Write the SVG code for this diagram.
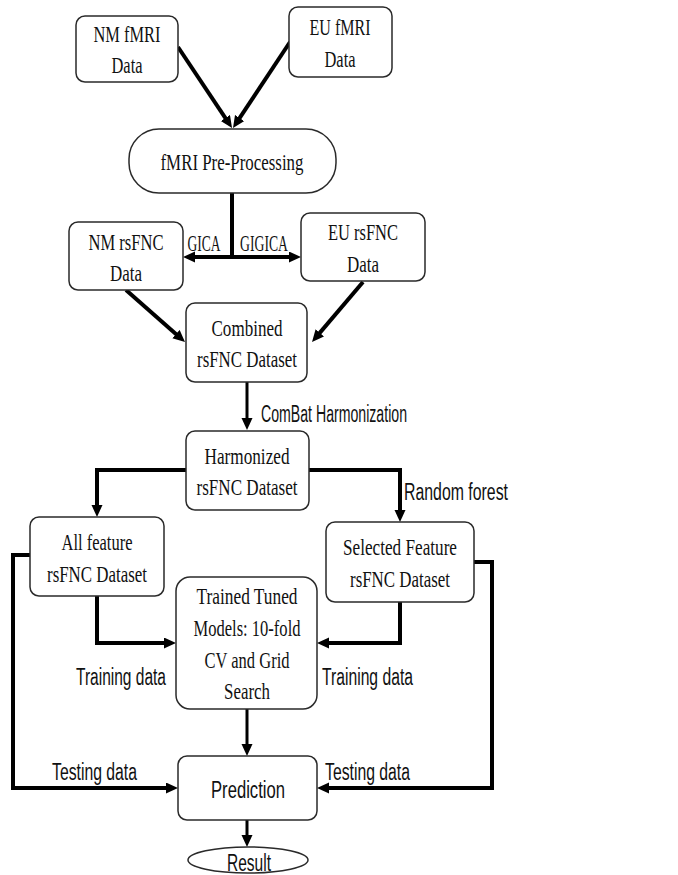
<svg xmlns="http://www.w3.org/2000/svg" width="678" height="875" viewBox="0 0 678 875">
<defs>
<marker id="ah" markerUnits="userSpaceOnUse" markerWidth="13" markerHeight="12" refX="4" refY="5.5" orient="auto">
<path d="M0,0 L12,5.5 L0,11 z" fill="#000"/>
</marker>
<style>
.box{fill:#fff;stroke:#2a2a2a;stroke-width:1.5}
.ser{font-family:"Liberation Serif","Times New Roman",serif;font-size:24px;fill:#111;text-anchor:middle}
.san{font-family:"Liberation Sans",Arial,sans-serif;font-size:23px;fill:#111}
.c{stroke:#000;stroke-width:4;fill:none;marker-end:url(#ah)}
.t{stroke:#000;stroke-width:3;fill:none;marker-end:url(#ah)}
</style>
</defs>
<rect width="678" height="875" fill="#fff"/>
<g id="connectors">
<path class="c" d="M178,47 L227.6,121.3"/>
<path class="c" d="M290,42 L237.4,121.3"/>
<path class="c" d="M232,193 V257 H191"/>
<path class="c" d="M232,257 H293"/>
<path class="c" d="M126,290 L179,336.7"/>
<path class="c" d="M363,282 L317.2,335.9"/>
<path class="t" d="M247,382 V422"/>
<path class="c" d="M186,470 H97 V509"/>
<path class="c" d="M309,470 H400 V514"/>
<path class="c" d="M97,596 V643 H168"/>
<path class="c" d="M400,602 V643 H325"/>
<path class="c" d="M30,555 H13 V788 H170"/>
<path class="c" d="M474,562 H492 V788 H325"/>
<path class="t" d="M247,709 V748"/>
<path class="t" d="M247,820 V839"/>
</g>
<g id="labels">
<text class="ser" x="204" y="251" font-size="16" textLength="33" lengthAdjust="spacingAndGlyphs">GICA</text>
<text class="ser" x="264" y="251" font-size="16" textLength="48" lengthAdjust="spacingAndGlyphs">GIGICA</text>
<text class="san" x="261" y="422" font-size="21" textLength="146" lengthAdjust="spacingAndGlyphs">ComBat Harmonization</text>
<text class="san" x="404" y="500" textLength="104" lengthAdjust="spacingAndGlyphs">Random forest</text>
<text class="san" x="76" y="685" textLength="90" lengthAdjust="spacingAndGlyphs">Training data</text>
<text class="san" x="322" y="685" textLength="91" lengthAdjust="spacingAndGlyphs">Training data</text>
<text class="san" x="52" y="780" textLength="85" lengthAdjust="spacingAndGlyphs">Testing data</text>
<text class="san" x="325" y="780" textLength="85" lengthAdjust="spacingAndGlyphs">Testing data</text>
</g>
<g id="nm-fmri">
<rect class="box" x="76" y="16" width="102" height="66" rx="9"/>
<text class="ser" x="127" y="42" textLength="67" lengthAdjust="spacingAndGlyphs">NM fMRI</text>
<text class="ser" x="127" y="73" textLength="31" lengthAdjust="spacingAndGlyphs">Data</text>
</g>
<g id="eu-fmri">
<rect class="box" x="289" y="7" width="103" height="70" rx="9"/>
<text class="ser" x="340" y="35" textLength="61" lengthAdjust="spacingAndGlyphs">EU fMRI</text>
<text class="ser" x="340" y="67" textLength="31" lengthAdjust="spacingAndGlyphs">Data</text>
</g>
<g id="preprocessing">
<rect class="box" x="129" y="129" width="207" height="64" rx="30"/>
<text class="ser" x="232" y="170" textLength="143" lengthAdjust="spacingAndGlyphs">fMRI Pre-Processing</text>
</g>
<g id="nm-rsfnc">
<rect class="box" x="69" y="222" width="114" height="68" rx="9"/>
<text class="ser" x="126" y="250" font-size="22" textLength="75" lengthAdjust="spacingAndGlyphs">NM rsFNC</text>
<text class="ser" x="126" y="281" textLength="32" lengthAdjust="spacingAndGlyphs">Data</text>
</g>
<g id="eu-rsfnc">
<rect class="box" x="301" y="213" width="124" height="68" rx="9"/>
<text class="ser" x="363" y="240" textLength="70" lengthAdjust="spacingAndGlyphs">EU rsFNC</text>
<text class="ser" x="363" y="272" textLength="32" lengthAdjust="spacingAndGlyphs">Data</text>
</g>
<g id="combined">
<rect class="box" x="186" y="303" width="121" height="79" rx="9"/>
<text class="ser" x="247" y="336" textLength="71" lengthAdjust="spacingAndGlyphs">Combined</text>
<text class="ser" x="247" y="367" textLength="100" lengthAdjust="spacingAndGlyphs">rsFNC Dataset</text>
</g>
<g id="harmonized">
<rect class="box" x="186" y="431" width="123" height="79" rx="9"/>
<text class="ser" x="247" y="464" textLength="85" lengthAdjust="spacingAndGlyphs">Harmonized</text>
<text class="ser" x="247" y="495" textLength="101" lengthAdjust="spacingAndGlyphs">rsFNC Dataset</text>
</g>
<g id="all-feature">
<rect class="box" x="30" y="517" width="134" height="79" rx="9"/>
<text class="ser" x="97" y="550" textLength="71" lengthAdjust="spacingAndGlyphs">All feature</text>
<text class="ser" x="97" y="582" textLength="100" lengthAdjust="spacingAndGlyphs">rsFNC Dataset</text>
</g>
<g id="selected-feature">
<rect class="box" x="326" y="522" width="148" height="80" rx="9"/>
<text class="ser" x="400" y="555" textLength="114" lengthAdjust="spacingAndGlyphs">Selected Feature</text>
<text class="ser" x="400" y="587" textLength="100" lengthAdjust="spacingAndGlyphs">rsFNC Dataset</text>
</g>
<g id="trained">
<rect class="box" x="176" y="577" width="141" height="132" rx="14"/>
<text class="ser" x="247" y="604" textLength="101" lengthAdjust="spacingAndGlyphs">Trained Tuned</text>
<text class="ser" x="247" y="636" textLength="107" lengthAdjust="spacingAndGlyphs">Models: 10-fold</text>
<text class="ser" x="247" y="668" textLength="85" lengthAdjust="spacingAndGlyphs">CV and Grid</text>
<text class="ser" x="247" y="699" textLength="46" lengthAdjust="spacingAndGlyphs">Search</text>
</g>
<g id="prediction">
<rect class="box" x="178" y="756" width="139" height="64" rx="9"/>
<text class="san" x="248" y="798" text-anchor="middle" textLength="74" lengthAdjust="spacingAndGlyphs">Prediction</text>
</g>
<g id="result">
<ellipse class="box" cx="248" cy="860" rx="60" ry="13"/>
<text class="san" x="249" y="871" text-anchor="middle" textLength="44" lengthAdjust="spacingAndGlyphs">Result</text>
</g>
</svg>
